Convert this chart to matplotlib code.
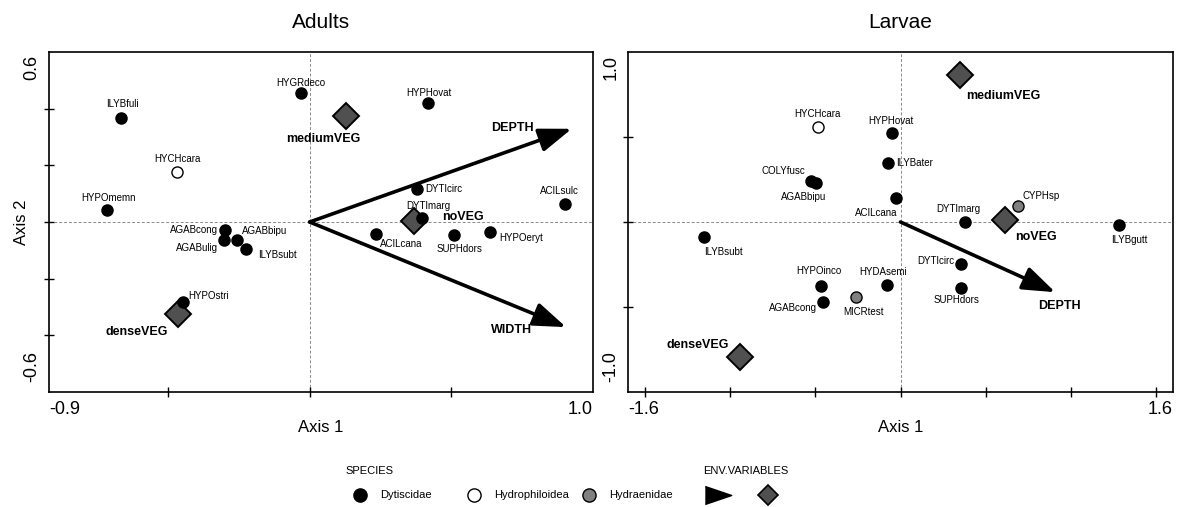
import matplotlib
matplotlib.use('Agg')
import matplotlib.pyplot as plt

plt.rcParams['font.family'] = ['Liberation Sans', 'DejaVu Sans']

# ---------------- data: Adults ----------------
adult_names = ['ILYBfuli', 'HYGRdeco', 'HYCHcara', 'HYPOmemn', 'AGABcong', 'AGABbipu',
               'AGABulig', 'ILYBsubt', 'HYPOstri', 'HYPHovat', 'DYTIcirc', 'ACILsulc',
               'DYTImarg', 'ACILcana', 'SUPHdors', 'HYPOeryt']
adult_x = [-0.665, -0.032, -0.468, -0.715, -0.299, -0.258, -0.303, -0.224, -0.448,
           0.419, 0.380, 0.902, 0.396, 0.233, 0.509, 0.636]
adult_y = [0.366, 0.455, 0.178, 0.043, -0.028, -0.063, -0.065, -0.095, -0.283,
           0.420, 0.115, 0.064, 0.015, -0.042, -0.045, -0.036]
adult_group = ['Dytiscidae', 'Dytiscidae', 'Hydrophiloidea', 'Dytiscidae', 'Dytiscidae',
               'Dytiscidae', 'Dytiscidae', 'Dytiscidae', 'Dytiscidae', 'Dytiscidae',
               'Dytiscidae', 'Dytiscidae', 'Dytiscidae', 'Dytiscidae', 'Dytiscidae',
               'Dytiscidae']
adult_env_names = ['mediumVEG', 'noVEG', 'denseVEG']
adult_env_x = [0.127, 0.369, -0.464]
adult_env_y = [0.373, 0.002, -0.324]
adult_arrow_names = ['DEPTH', 'WIDTH']
adult_arrow_x = [0.925, 0.905]
adult_arrow_y = [0.329, -0.371]

# ---------------- data: Larvae ----------------
larva_names = ['HYCHcara', 'HYPHovat', 'ILYBater', 'COLYfusc', 'AGABbipu', 'ACILcana',
               'CYPHsp', 'DYTImarg', 'ILYBgutt', 'ILYBsubt', 'HYPOinco', 'AGABcong',
               'MICRtest', 'HYDAsemi', 'DYTIcirc', 'SUPHdors']
larva_x = [-0.485, -0.049, -0.072, -0.528, -0.498, -0.029, 0.688, 0.377, 1.284,
           -1.153, -0.469, -0.455, -0.264, -0.082, 0.358, 0.358]
larva_y = [0.561, 0.522, 0.348, 0.244, 0.228, 0.142, 0.093, -0.001, -0.017,
           -0.089, -0.374, -0.468, -0.443, -0.369, -0.246, -0.387]
larva_group = ['Hydrophiloidea', 'Dytiscidae', 'Dytiscidae', 'Dytiscidae', 'Dytiscidae',
               'Dytiscidae', 'Hydraenidae', 'Dytiscidae', 'Dytiscidae', 'Dytiscidae',
               'Dytiscidae', 'Dytiscidae', 'Hydraenidae', 'Dytiscidae', 'Dytiscidae',
               'Dytiscidae']
larva_env_names = ['mediumVEG', 'noVEG', 'denseVEG']
larva_env_x = [0.352, 0.615, -0.944]
larva_env_y = [0.866, 0.013, -0.795]
larva_arrow_names = ['DEPTH']
larva_arrow_x = [0.909]
larva_arrow_y = [-0.413]

# ---------------- label placement (offsets in pixels, alignment) ----------------
adult_lab = [(1, 14, 'center'), (0, 10, 'center'), (0, 13, 'center'), (1, 12, 'center'),
             (-7, 0, 'right'), (5, 9, 'left'), (-6, -8, 'right'), (12, -6, 'left'),
             (6, 6, 'left'), (0, 10, 'center'), (8, 0, 'left'), (-6, 13, 'center'),
             (6, 12, 'center'), (26, -10, 'center'), (6, -14, 'center'), (9, -6, 'left')]
adult_env_lab = [(-22, -23), (49, 4), (-42, -18)]
adult_arrow_lab = [(-59, 1), (-55, -3)]

larva_lab = [(0, 13, 'center'), (-1, 12, 'center'), (8, 0, 'left'), (-27, 10, 'center'),
             (-12, -14, 'center'), (-19, -15, 'center'), (5, 10, 'left'), (-6, 13, 'center'),
             (10, -15, 'center'), (19, -15, 'center'), (-2, 15, 'center'), (-6, -6, 'right'),
             (8, -15, 'center'), (-3, 13, 'center'), (-7, 3, 'right'), (-5, -12, 'center')]
larva_env_lab = [(43, -21), (31, -17), (-42, 12)]
larva_arrow_lab = [(4, -14)]

group_face = {'Dytiscidae': 'black', 'Hydrophiloidea': 'white', 'Hydraenidae': '#808080'}
diamond_face = '#505050'

W, H = 1177, 507
fig = plt.figure(figsize=(W / 100, H / 100), dpi=100)


def fx(px):
    return px / W


def fy(py):
    return 1 - py / H


def make_panel(rect, title, xlim, ylim, xticks, yticks, xlab, ylab, ylabel_text,
               names, xs, ys, groups, labs, env_names, env_x, env_y, env_labs,
               arr_names, arr_x, arr_y, arr_labs):
    x0, x1, y0, y1 = rect
    ax = fig.add_axes([fx(x0), fy(y1), fx(x1) - fx(x0), (y1 - y0) / H])
    ax.set_xlim(*xlim)
    ax.set_ylim(*ylim)
    ax.set_xticks(xticks)
    ax.set_yticks(yticks)
    ax.set_xticklabels([])
    ax.set_yticklabels([])
    ax.tick_params(direction='inout', length=7, width=1, colors='black')
    for s in ax.spines.values():
        s.set_linewidth(1.2)
    ax.axhline(0, color='#8a8a8a', lw=0.7, ls=(0, (3, 2)), zorder=1)
    ax.axvline(0, color='#8a8a8a', lw=0.7, ls=(0, (3, 2)), zorder=1)

    # edge value labels
    ax.annotate(xlab[0], xy=(0, 0), xycoords='axes fraction', xytext=(0, -17),
                textcoords='offset pixels', ha='left', va='center', fontsize=13)
    ax.annotate(xlab[1], xy=(1, 0), xycoords='axes fraction', xytext=(0, -17),
                textcoords='offset pixels', ha='right', va='center', fontsize=13)
    ax.annotate(ylab[1], xy=(0, 1), xycoords='axes fraction', xytext=(-17, -3),
                textcoords='offset pixels', ha='center', va='top', rotation=90, fontsize=13)
    ax.annotate(ylab[0], xy=(0, 0), xycoords='axes fraction', xytext=(-17, 10),
                textcoords='offset pixels', ha='center', va='bottom', rotation=90, fontsize=13)

    fig.text(fx((x0 + x1) / 2), fy(22), title, ha='center', va='center', fontsize=15)
    fig.text(fx((x0 + x1) / 2), fy(427), 'Axis 1', ha='center', va='center', fontsize=12)
    if ylabel_text:
        fig.text(fx(x0 - 27), fy((y0 + y1) / 2), ylabel_text, ha='center', va='center',
                 rotation=90, fontsize=12)

    # arrows
    for n, ax_, ay_, (dx, dy) in zip(arr_names, arr_x, arr_y, arr_labs):
        ax.annotate('', xy=(ax_, ay_), xytext=(0, 0),
                    arrowprops=dict(arrowstyle='-|>,head_length=1.0,head_width=0.36',
                                    lw=2.6, color='black', shrinkA=0, shrinkB=0,
                                    mutation_scale=20), zorder=3)
        ax.annotate(n, xy=(ax_, ay_), xytext=(dx, dy), textcoords='offset pixels',
                    ha='center', va='center', fontsize=9, fontweight='bold', zorder=6)

    # species
    for n, x, y, g, (dx, dy, ha) in zip(names, xs, ys, groups, labs):
        ax.plot([x], [y], 'o', ms=8, mfc=group_face[g], mec='black', mew=1.0, zorder=5)
        ax.annotate(n, xy=(x, y), xytext=(dx, dy), textcoords='offset pixels',
                    ha=ha, va='center', fontsize=7, zorder=6)

    # nominal env variables
    for n, x, y, (dx, dy) in zip(env_names, env_x, env_y, env_labs):
        ax.plot([x], [y], 'D', ms=13, mfc=diamond_face, mec='black', mew=1.4, zorder=4)
        ax.annotate(n, xy=(x, y), xytext=(dx, dy), textcoords='offset pixels',
                    ha='center', va='center', fontsize=9, fontweight='bold', zorder=6)
    return ax


make_panel((49, 593, 52, 392), 'Adults', (-0.92, 1.0), (-0.6, 0.6),
           [-0.5, 0, 0.5], [-0.4, -0.2, 0, 0.2, 0.4], ('-0.9', '1.0'), ('-0.6', '0.6'),
           'Axis 2', adult_names, adult_x, adult_y, adult_group, adult_lab,
           adult_env_names, adult_env_x, adult_env_y, adult_env_lab,
           adult_arrow_names, adult_arrow_x, adult_arrow_y, adult_arrow_lab)

make_panel((628, 1173, 52, 392), 'Larvae', (-1.6, 1.6), (-1.0, 1.0),
           [-1.5, -1.0, -0.5, 0, 0.5, 1.0, 1.5], [-0.5, 0, 0.5], ('-1.6', '1.6'),
           ('-1.0', '1.0'), None, larva_names, larva_x, larva_y, larva_group, larva_lab,
           larva_env_names, larva_env_x, larva_env_y, larva_env_lab,
           larva_arrow_names, larva_arrow_x, larva_arrow_y, larva_arrow_lab)

# ---------------- legend ----------------
leg = fig.add_axes([0, 0, 1, 1])
leg.set_xlim(0, W)
leg.set_ylim(H, 0)
leg.axis('off')
leg.patch.set_alpha(0)
leg.text(345, 471, 'SPECIES', ha='left', va='center', fontsize=8)
leg.text(703, 471, 'ENV.VARIABLES', ha='left', va='center', fontsize=8)
legend_items = [('Dytiscidae', 360), ('Hydrophiloidea', 474), ('Hydraenidae', 589)]
for g, px in legend_items:
    leg.plot([px], [495], 'o', ms=9.5, mfc=group_face[g], mec='black', mew=1.0)
    leg.text(px + 20, 495, g, ha='left', va='center', fontsize=8)
leg.plot([718], [495], marker=[(-1, -0.68), (1, 0), (-1, 0.68)], ms=19, color='black')
leg.plot([768], [495], 'D', ms=10.5, mfc=diamond_face, mec='black', mew=1.2)

fig.savefig('out.png', dpi=100)
